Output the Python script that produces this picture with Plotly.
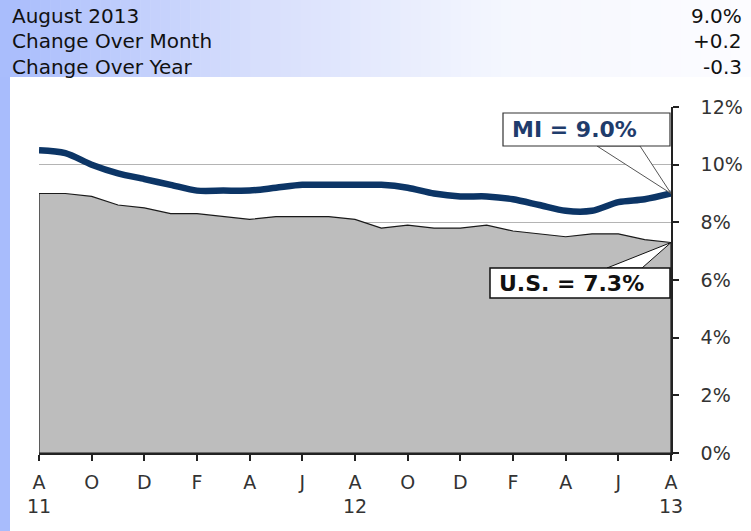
import numpy as np
import plotly.graph_objects as go

# Monthly unemployment rates, Aug 2011 - Aug 2013
months = list(range(25))
mi_rate = [10.5, 10.4, 10.0, 9.7, 9.5, 9.3, 9.1, 9.1, 9.1, 9.2, 9.3, 9.3, 9.3,
           9.3, 9.2, 9.0, 8.9, 8.9, 8.8, 8.6, 8.4, 8.4, 8.7, 8.8, 9.0]
us_rate = [9.0, 9.0, 8.9, 8.6, 8.5, 8.3, 8.3, 8.2, 8.1, 8.2, 8.2, 8.2, 8.1,
           7.8, 7.9, 7.8, 7.8, 7.9, 7.7, 7.6, 7.5, 7.6, 7.6, 7.4, 7.3]
tick_months = [0, 2, 4, 6, 8, 10, 12, 14, 16, 18, 20, 22, 24]
tick_labels = ["A<br>11", "O", "D", "F", "A", "J", "A<br>12", "O", "D", "F", "A", "J", "A<br>13"]
y_ticks = [0, 2, 4, 6, 8, 10, 12]
y_labels = ["0%", "2%", "4%", "6%", "8%", "10%", "12%"]

header_rows = ["August 2013", "Change Over Month", "Change Over Year"]
header_vals = ["9.0%", "+0.2", "-0.3"]

W, H = 751, 531
L, R, T, B = 39, 671, 107, 453
FONT = "Verdana, DejaVu Sans, sans-serif"


def xp(px):
    return (px - L) / (R - L)


def yp(py):
    return (B - py) / (B - T)


def xd(px):
    return (px - L) / (R - L) * 24


def yd(py):
    return (B - py) / (B - T) * 12


fig = go.Figure()

# U.S. rate as a filled region outlined in dark grey
fig.add_trace(go.Scatter(
    x=months + [months[-1], months[0], months[0]],
    y=us_rate + [0, 0, us_rate[0]],
    mode="lines", fill="toself", fillcolor="#bdbdbd",
    line=dict(color="#1a1a1a", width=1.2),
    hoverinfo="skip", showlegend=False,
))

# Michigan rate as a heavy navy line
fig.add_trace(go.Scatter(
    x=months, y=mi_rate, mode="lines",
    line=dict(color="#0c3566", width=6.5, shape="spline", smoothing=0.8),
    showlegend=False,
))

shapes = []

# Header band: horizontal blue-to-white gradient built from thin strips
stops_x = [0, 250, 510, 751]
stops_c = np.array([[168, 188, 252], [214, 222, 252], [245, 247, 254], [252, 252, 255]])
edges = np.linspace(0, W, 76)
for a, b in zip(edges[:-1], edges[1:]):
    m = (a + b) / 2
    c = [int(round(np.interp(m, stops_x, stops_c[:, k]))) for k in range(3)]
    shapes.append(dict(type="rect", xref="paper", yref="paper",
                       x0=xp(a), x1=xp(b + 0.6), y0=yp(77), y1=yp(0),
                       fillcolor=f"rgb({c[0]},{c[1]},{c[2]})", line=dict(width=0),
                       layer="below"))
# Left side bar
shapes.append(dict(type="rect", xref="paper", yref="paper",
                   x0=xp(0), x1=xp(10), y0=yp(H), y1=yp(77),
                   fillcolor="#a8bcfc", line=dict(width=0), layer="below"))

# Callout for Michigan
mi_last = mi_rate[-1]
shapes.append(dict(type="path", xref="x", yref="y",
                   path=f"M {xd(597)},{yd(146)} L {months[-1]},{mi_last} L {xd(640)},{yd(146)} Z",
                   fillcolor="white", line=dict(color="#555555", width=1)))
shapes.append(dict(type="rect", xref="x", yref="y",
                   x0=xd(503), x1=xd(670), y0=yd(146), y1=yd(113),
                   fillcolor="white", line=dict(color="#333333", width=1.2)))

# Callout for U.S.
us_last = us_rate[-1]
shapes.append(dict(type="path", xref="x", yref="y",
                   path=f"M {xd(607)},{yd(268)} L {months[-1]},{us_last} L {xd(642)},{yd(268)} Z",
                   fillcolor="white", line=dict(color="#111111", width=1)))
shapes.append(dict(type="rect", xref="x", yref="y",
                   x0=xd(490), x1=xd(670), y0=yd(298), y1=yd(268),
                   fillcolor="white", line=dict(color="#111111", width=1.5)))

annotations = []
for i, (lab, val) in enumerate(zip(header_rows, header_vals)):
    ymid = 15.5 + i * 25.6
    annotations.append(dict(text=lab, x=xp(10), y=yp(ymid), xref="paper", yref="paper",
                            xanchor="left", yanchor="middle", showarrow=False,
                            font=dict(family=FONT, size=20, color="#111111")))
    annotations.append(dict(text=val, x=xp(744), y=yp(ymid), xref="paper", yref="paper",
                            xanchor="right", yanchor="middle", showarrow=False,
                            font=dict(family=FONT, size=20, color="#111111")))

annotations.append(dict(text=f"<b>MI = {mi_last:.1f}%</b>", x=xd(574), y=yd(129.5),
                        xref="x", yref="y", showarrow=False,
                        font=dict(family=FONT, size=22, color="#1f3c6c")))
annotations.append(dict(text=f"<b>U.S. = {us_last:.1f}%</b>", x=xd(571), y=yd(283),
                        xref="x", yref="y", showarrow=False,
                        font=dict(family=FONT, size=22, color="#111111")))

fig.update_layout(
    width=W, height=H,
    margin=dict(l=L, r=W - R, t=T, b=H - B, pad=0, autoexpand=False),
    paper_bgcolor="white", plot_bgcolor="white",
    shapes=shapes, annotations=annotations,
    showlegend=False,
    xaxis=dict(range=[0, 24], tickmode="array", tickvals=tick_months, ticktext=tick_labels,
               showgrid=False, zeroline=False, showline=True, linecolor="#222222", linewidth=1.5,
               ticks="outside", ticklen=6, tickcolor="#222222", tickwidth=1.5,
               ticklabelstandoff=5, automargin=False,
               tickfont=dict(family=FONT, size=19, color="#333333"), fixedrange=True),
    yaxis=dict(range=[0, 12], side="right", tickmode="array", tickvals=y_ticks, ticktext=y_labels,
               showgrid=True, gridcolor="#b4b4b4", gridwidth=1, zeroline=False,
               showline=True, linecolor="#222222", linewidth=1.5,
               ticks="outside", ticklen=6, tickcolor="#222222", tickwidth=1.5,
               ticklabelstandoff=18, automargin=False,
               tickfont=dict(family=FONT, size=19, color="#333333"), fixedrange=True),
)

fig.write_html("out.html")
